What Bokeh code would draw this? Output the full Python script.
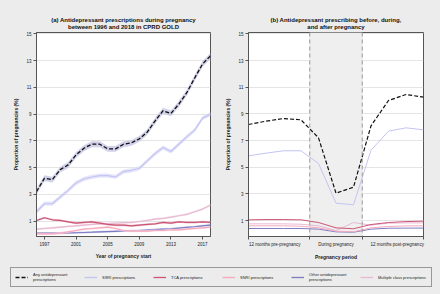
from bokeh.plotting import figure
from bokeh.models import (Range1d, FixedTicker, BoxAnnotation, Span, Legend, LegendItem, Title)
from bokeh.layouts import column, row
from bokeh.embed import file_html
from bokeh.resources import INLINE

# ---------------- data ----------------
years = [1996, 1997, 1998, 1999, 2000, 2001, 2002, 2003, 2004, 2005, 2006, 2007,
         2008, 2009, 2010, 2011, 2012, 2013, 2014, 2015, 2016, 2017, 2018]
any_rx = [3.2, 4.2, 4.1, 4.85, 5.2, 5.95, 6.45, 6.75, 6.75, 6.4, 6.4, 6.75,
          6.85, 7.15, 7.65, 8.5, 9.25, 9.05, 9.75, 10.6, 11.7, 12.75, 13.35]
ssri = [1.7, 2.3, 2.3, 2.8, 3.3, 3.85, 4.15, 4.3, 4.4, 4.4, 4.3, 4.7,
        4.8, 4.95, 5.5, 6.05, 6.5, 6.2, 6.75, 7.3, 7.8, 8.7, 9.0]
tca = [1.05, 1.25, 1.1, 1.05, 0.95, 0.85, 0.9, 0.95, 0.85, 0.75, 0.7, 0.7,
       0.65, 0.7, 0.75, 0.8, 0.9, 0.85, 0.95, 0.9, 0.9, 0.95, 0.9]
snri = [0.05, 0.05, 0.05, 0.1, 0.2, 0.3, 0.4, 0.45, 0.5, 0.55, 0.45, 0.3,
        0.25, 0.25, 0.25, 0.3, 0.3, 0.35, 0.35, 0.4, 0.45, 0.5, 0.55]
other = [0.1, 0.1, 0.1, 0.1, 0.12, 0.13, 0.15, 0.17, 0.2, 0.22, 0.24, 0.26,
         0.28, 0.3, 0.33, 0.36, 0.4, 0.43, 0.48, 0.53, 0.58, 0.65, 0.7]
multi = [0.4, 0.45, 0.5, 0.55, 0.6, 0.65, 0.7, 0.75, 0.8, 0.82, 0.85, 0.88,
         0.9, 0.97, 1.05, 1.15, 1.2, 1.3, 1.4, 1.5, 1.7, 1.9, 2.2]
# half-widths of the confidence bands (panel a)
ci_any, ci_ssri, ci_small = 0.22, 0.16, 0.08

year_ticks = [1997, 2001, 2005, 2009, 2013, 2017]
y_ticks = [1, 3, 5, 7, 9, 11, 13, 15]

period_index = [0, 1, 2, 3, 4, 5, 6, 7, 8, 9, 10]
any_b = [8.2, 8.45, 8.65, 8.55, 7.2, 3.05, 3.5, 8.1, 10.0, 10.45, 10.25]
ssri_b = [5.85, 6.05, 6.23, 6.23, 5.28, 2.3, 2.18, 6.27, 7.7, 7.95, 7.8]
tca_b = [1.05, 1.07, 1.07, 1.05, 0.85, 0.45, 0.38, 0.7, 0.85, 0.92, 0.95]
snri_b = [0.6, 0.6, 0.6, 0.57, 0.45, 0.2, 0.15, 0.45, 0.55, 0.6, 0.6]
other_b = [0.4, 0.4, 0.4, 0.4, 0.35, 0.15, 0.12, 0.35, 0.42, 0.43, 0.43]
multi_b = [0.75, 0.75, 0.75, 0.72, 0.6, 0.25, 0.85, 0.65, 0.8, 0.82, 0.82]
period_labels = ["12 months pre-pregnancy", "During pregnancy", "12 months post-pregnancy"]
period_label_pos = [1.5, 5, 8.5]
period_bounds = [3.5, 6.5]
period_edges = [0, 3.5, 6.5, 10]

title_a = ["(a) Antidepressant prescriptions during pregnancy", "between 1996 and 2018 in CPRD GOLD"]
title_b = ["(b) Antidepressant prescribing before, during,", "and after pregnancy"]

series_names = ["Any antidepressant\nprescriptions", "SSRI prescriptions", "TCA prescriptions",
                "SNRI prescriptions", "Other antidepressant\nprescriptions",
                "Multiple class prescriptions"]

# ---------------- style ----------------
BG = "#ececec"
FONT = "Liberation Sans"
C_ANY, C_SSRI, C_TCA, C_SNRI, C_OTHER, C_MULTI = ("#111111", "#c4c4f2", "#cc5576",
                                                  "#f6a8bd", "#7c7cc4", "#e8b9d3")
BAND = {"any": "#bdbde0", "ssri": "#dcdcf8", "tca": "#e6adbd", "snri": "#fbd6e0",
        "other": "#c2c2e6", "multi": "#f2dbe7"}


def add_titles(p, lines):
    t = p.title
    t.text = lines[0]
    t.text_font = FONT
    t.text_font_size = "6px"
    t.text_font_style = "bold"
    t.text_color = "#111111"
    t.align = "center"
    t.vertical_align = "bottom"
    t.standoff = 0
    t.offset = 0
    second = Title(text=lines[1], text_font=FONT, text_font_size="6px", text_font_style="bold",
                   text_color="#111111", align="center", vertical_align="top", standoff=2)
    p.add_layout(second, "above")


def style(p):
    p.background_fill_color = "white"
    p.border_fill_color = BG
    p.outline_line_color = "#555555"
    p.outline_line_width = 1
    for ax in (p.xaxis[0], p.yaxis[0]):
        ax.axis_line_color = "#555555"
        ax.major_tick_line_color = "#555555"
        ax.minor_tick_line_color = "#555555"
        ax.major_tick_out = 3
        ax.major_tick_in = 0
        ax.minor_tick_in = 0
        ax.major_label_text_font = FONT
        ax.major_label_text_font_size = "4.5px"
        ax.major_label_text_color = "#222222"
        ax.axis_label_text_font = FONT
        ax.axis_label_text_font_size = "5px"
        ax.axis_label_text_font_style = "bold"
        ax.axis_label_text_color = "#222222"
        ax.major_label_standoff = 2
        ax.axis_label_standoff = 4
    p.yaxis[0].ticker = FixedTicker(ticks=y_ticks)
    p.yaxis[0].axis_label = "Proportion of pregnancies (%)"
    p.xgrid.visible = False
    p.ygrid.grid_line_color = "#dedede"
    p.ygrid.grid_line_width = 0.8
    p.ygrid.ticker = FixedTicker(ticks=y_ticks)


# ---------------- panel (a) ----------------
pa = figure(width=222, height=262, output_backend="svg", toolbar_location=None,
            x_range=Range1d(1996, 2018), y_range=Range1d(-0.15, 15.1),
            min_border_left=36, min_border_right=12, min_border_top=32, min_border_bottom=25)
add_titles(pa, title_a)
style(pa)
pa.xaxis[0].ticker = FixedTicker(ticks=year_ticks)
pa.xaxis[0].axis_label = "Year of pregnancy start"


def band_line(p, y, ci, band, color, width=1.2, dash="solid"):
    lo = [v - ci for v in y]
    hi = [v + ci for v in y]
    p.varea(x=years, y1=lo, y2=hi, fill_color=band, fill_alpha=0.7)
    p.line(x=years, y=y, line_color=color, line_width=width, line_dash=dash)


band_line(pa, other, ci_small, BAND["other"], C_OTHER)
band_line(pa, snri, ci_small, BAND["snri"], C_SNRI)
band_line(pa, multi, ci_small, BAND["multi"], C_MULTI)
band_line(pa, tca, ci_small, BAND["tca"], C_TCA)
band_line(pa, ssri, ci_ssri, BAND["ssri"], C_SSRI)
band_line(pa, any_rx, ci_any, BAND["any"], C_ANY, width=1.3, dash="4 2")

# ---------------- panel (b) ----------------
pb = figure(width=218, height=262, output_backend="svg", toolbar_location=None,
            x_range=Range1d(0, 10), y_range=Range1d(-0.2, 15.1),
            min_border_left=26, min_border_right=17, min_border_top=32, min_border_bottom=25)
add_titles(pb, title_b)
style(pb)
pb.xaxis[0].ticker = FixedTicker(ticks=period_label_pos, minor_ticks=period_edges)
pb.xaxis[0].major_label_overrides = {k: v for k, v in zip(period_label_pos, period_labels)}
pb.xaxis[0].major_tick_out = 0
pb.xaxis[0].minor_tick_out = 3
pb.xaxis[0].axis_label = "Pregnancy period"

pb.add_layout(BoxAnnotation(left=period_bounds[0], right=period_bounds[1],
                            fill_color="#efefef", fill_alpha=1.0, level="underlay"))
for b in period_bounds:
    pb.add_layout(Span(location=b, dimension="height", line_color="#9a9a9a",
                       line_dash="4 3", line_width=1))

pb.line(period_index, other_b, line_color=C_OTHER, line_width=1)
pb.line(period_index, snri_b, line_color=C_SNRI, line_width=1)
pb.line(period_index, multi_b, line_color=C_MULTI, line_width=1)
pb.line(period_index, tca_b, line_color=C_TCA, line_width=1)
pb.line(period_index, ssri_b, line_color=C_SSRI, line_width=1)
pb.line(period_index, any_b, line_color=C_ANY, line_width=1.2, line_dash="4 2")

# ---------------- legend ----------------
pl = figure(width=440, height=32, output_backend="svg", toolbar_location=None,
            x_range=Range1d(0, 1), y_range=Range1d(0, 1),
            x_axis_location=None, y_axis_location=None,
            min_border=0, min_border_left=0, min_border_right=0,
            min_border_top=0, min_border_bottom=0)
pl.background_fill_color = BG
pl.border_fill_color = BG
pl.outline_line_color = None
pl.grid.visible = False
nan = float("nan")
colors = [C_ANY, C_SSRI, C_TCA, C_SNRI, C_OTHER, C_MULTI]
items = []
for name, c in zip(series_names, colors):
    dash = "4 2" if c == C_ANY else "solid"
    r = pl.line([nan], [nan], line_color=c, line_width=1.3, line_dash=dash)
    items.append(LegendItem(label=name, renderers=[r]))
leg = Legend(items=items, orientation="horizontal", location=(10, 7),
             glyph_width=13, glyph_height=6, label_standoff=5, label_width=49,
             spacing=2, padding=4, margin=0,
             label_text_font=FONT, label_text_font_size="4px", label_text_color="#222222",
             label_text_line_height=1.0,
             border_line_color="#444444", border_line_width=1,
             background_fill_color=BG, background_fill_alpha=1.0)
pl.add_layout(leg, "center")

layout = column(row(pa, pb, spacing=0), pl, spacing=0)
layout.styles = {"background-color": BG}

open("out.html", "w").write(file_html(layout, INLINE))
